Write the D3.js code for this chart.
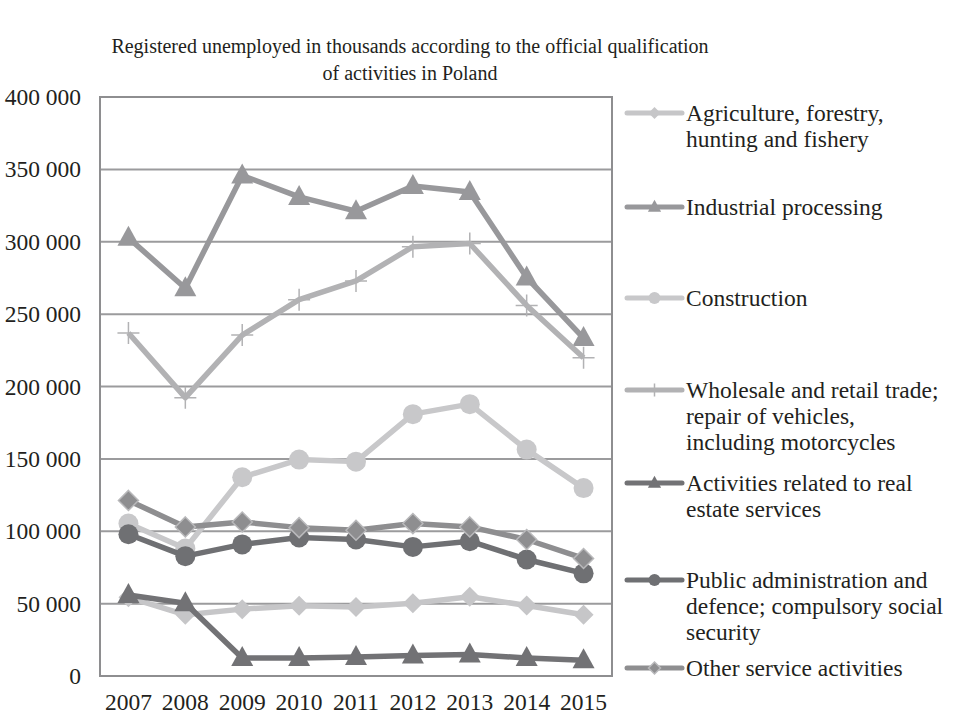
<!DOCTYPE html>
<html>
<head>
<meta charset="utf-8">
<script src="https://cdn.jsdelivr.net/npm/d3@7"></script>
<style>
  body { margin: 0; background: #fff; }
  text { font-family: "Liberation Serif", "Times New Roman", serif; fill: #231f20; }
</style>
</head>
<body>
<div id="chart"></div>
<script>
// data
const years = ["2007", "2008", "2009", "2010", "2011", "2012", "2013", "2014", "2015"];
const agriculture = [54400, 42300, 46200, 48500, 47600, 50300, 54800, 48700, 42300];
const industrial = [302700, 267900, 345800, 331000, 321100, 338500, 334400, 275300, 233500];
const construction = [105300, 88100, 137300, 149500, 148100, 180900, 187800, 156400, 129800];
const wholesale = [237000, 192300, 235500, 260000, 272900, 296600, 298800, 256000, 219800];
const realEstate = [56000, 50300, 12500, 12500, 13200, 14100, 14800, 12500, 10900];
const publicAdmin = [97900, 82800, 90900, 95700, 94300, 89200, 93100, 80500, 70900];
const otherServices = [121300, 103000, 106400, 102500, 100700, 105300, 103000, 94300, 81200];
const yTicks = [0, 50000, 100000, 150000, 200000, 250000, 300000, 350000, 400000];

const series = [
  { name: ["Agriculture, forestry,", "hunting and fishery"], values: agriculture, color: "#c6c6c8", shape: "diamond" },
  { name: ["Industrial processing"], values: industrial, color: "#98989b", shape: "triangle" },
  { name: ["Construction"], values: construction, color: "#c8c8ca", shape: "circle" },
  { name: ["Wholesale and retail trade;", "repair of vehicles,", "including motorcycles"], values: wholesale, color: "#b2b2b4", shape: "plus" },
  { name: ["Activities related to real", "estate services"], values: realEstate, color: "#727275", shape: "triangle" },
  { name: ["Public administration and", "defence; compulsory social", "security"], values: publicAdmin, color: "#6f7073", shape: "circle" },
  { name: ["Other service activities"], values: otherServices, color: "#8e8e90", shape: "diamond2" }
];
const legendY = [113, 207, 298, 390, 483, 580, 668];

var margin = { top: 97, left: 100 },
  width = 512,
  height = 579;

var svg = d3.select("#chart").append("svg")
  .attr("width", 955).attr("height", 716);

svg.append("text").attr("x", 410).attr("y", 53).attr("text-anchor", "middle")
  .style("font-size", "20px").text("Registered unemployed in thousands according to the official qualification");
svg.append("text").attr("x", 410).attr("y", 80).attr("text-anchor", "middle")
  .style("font-size", "20px").text("of activities in Poland");

var g = svg.append("g").attr("transform", "translate(" + margin.left + "," + margin.top + ")");

var x = d3.scaleBand().domain(years).range([0, width]);
var y = d3.scaleLinear().domain([0, 400000]).range([height, 0]);

// grid
g.selectAll(".grid").data(yTicks).enter().append("line")
  .attr("x1", 0).attr("x2", width)
  .attr("y1", d => y(d)).attr("y2", d => y(d))
  .attr("stroke", "#9b9b9d").attr("stroke-width", 2);

g.append("rect").attr("width", width).attr("height", height)
  .attr("fill", "none").attr("stroke", "#8e8e90").attr("stroke-width", 2);

// y axis labels
var fmt = d => d === 0 ? "0" : d3.format(",")(d).replace(/,/g, " ");
g.append("g").attr("transform", "translate(-16,0)")
  .call(d3.axisLeft(y).tickValues(yTicks).tickFormat(fmt).tickSize(0))
  .call(a => a.select(".domain").remove())
  .selectAll("text").style("font-size", "23.5px").attr("fill", "#231f20");

// x axis labels
g.append("g").attr("transform", "translate(0," + (height + 14) + ")")
  .call(d3.axisBottom(x).tickSize(0))
  .call(a => a.select(".domain").remove())
  .selectAll("text").style("font-size", "23.5px").attr("fill", "#231f20");

function drawMarker(sel, shape, color, s) {
  if (shape === "circle") {
    sel.append("circle").attr("r", 10 * s).attr("fill", color);
  } else if (shape === "triangle") {
    sel.append("path").attr("d", "M0," + (-12 * s) + "L" + (11 * s) + "," + (8 * s) + "L" + (-11 * s) + "," + (8 * s) + "Z").attr("fill", color);
  } else if (shape === "diamond") {
    sel.append("path").attr("d", "M0," + (-10 * s) + "L" + (10 * s) + ",0L0," + (10 * s) + "L" + (-10 * s) + ",0Z").attr("fill", color);
  } else if (shape === "diamond2") {
    sel.append("path").attr("d", "M0," + (-10 * s) + "L" + (10 * s) + ",0L0," + (10 * s) + "L" + (-10 * s) + ",0Z")
      .attr("fill", color).attr("stroke", "#b9b9bb").attr("stroke-width", 1.5);
  } else if (shape === "plus") {
    sel.append("path").attr("d", "M" + (-11 * s) + ",0H" + (11 * s) + "M0," + (-11 * s) + "V" + (11 * s))
      .attr("stroke", color).attr("stroke-width", 1.5).attr("fill", "none");
  }
}

var line = d3.line()
  .x((d, i) => x(years[i]) + x.bandwidth() / 2)
  .y(d => y(d));

series.forEach(function (s) {
  g.append("path").datum(s.values)
    .attr("d", line).attr("fill", "none")
    .attr("stroke", s.color).attr("stroke-width", 5.5).attr("stroke-linejoin", "round");
  g.selectAll(null).data(s.values).enter().append("g")
    .attr("transform", (d, i) => "translate(" + (x(years[i]) + x.bandwidth() / 2) + "," + y(d) + ")")
    .each(function () { drawMarker(d3.select(this), s.shape, s.color, 1); });
});

// legend
series.forEach(function (s, k) {
  var lg = svg.append("g").attr("transform", "translate(627," + legendY[k] + ")");
  lg.append("line").attr("x1", 0).attr("x2", 55).attr("stroke", s.color)
    .attr("stroke-width", 5).attr("stroke-linecap", "round");
  var m = lg.append("g").attr("transform", "translate(27.5,0)");
  drawMarker(m, s.shape, s.color, 0.6);
  s.name.forEach(function (t, j) {
    lg.append("text").attr("x", 59).attr("y", 8 + j * 26)
      .style("font-size", "23.5px").text(t);
  });
});
</script>
</body>
</html>
